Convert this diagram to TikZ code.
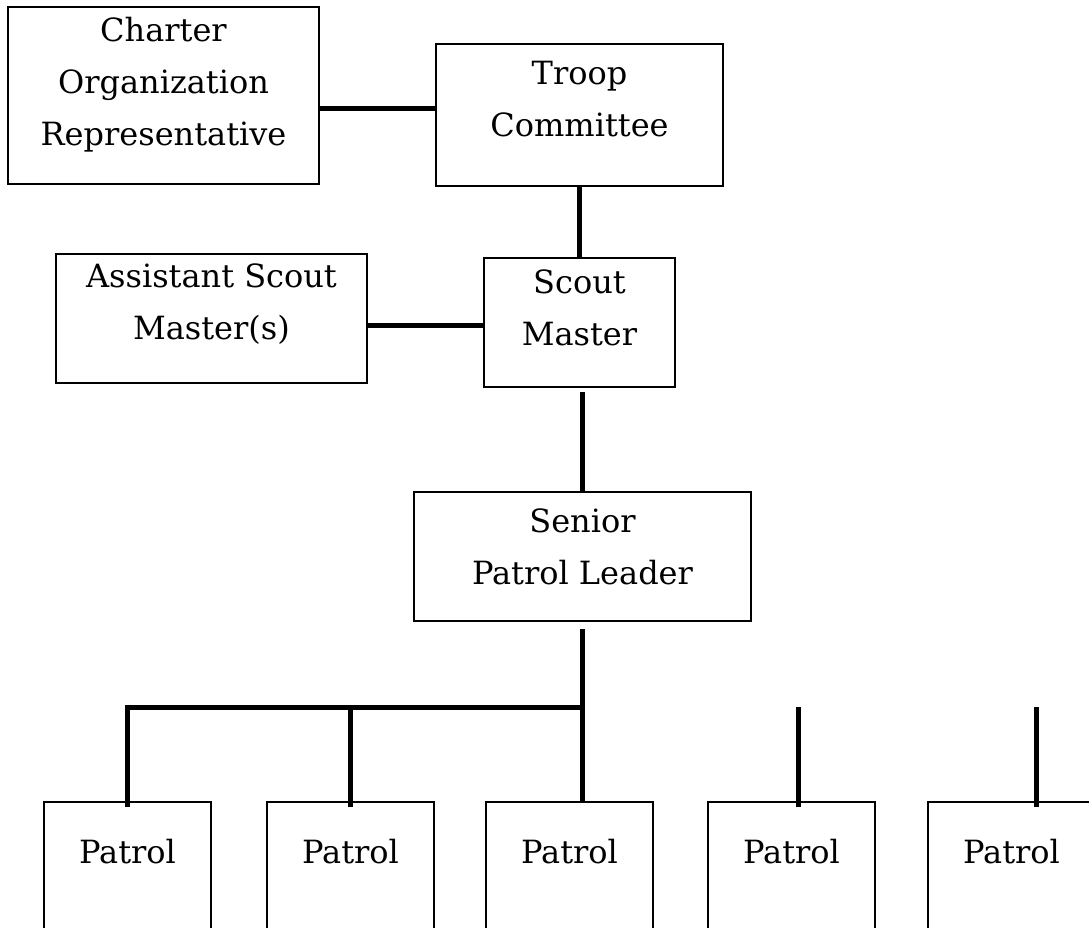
\documentclass[tikz,border=0pt]{standalone}
\usepackage{fontspec}
\setmainfont{DejaVu Serif}
\usetikzlibrary{calc}

\begin{document}
\begin{tikzpicture}[x=1pt,y=-1pt,
    unit/.style={draw,line width=1.3pt,anchor=north west,inner sep=0pt,outer sep=0pt},
    lbl/.style={anchor=base,align=center,inner sep=0pt,font=\fontsize{32}{52}\selectfont},
    link/.style={line width=5pt}]
  \clip (0,0) rectangle (1089,928);
  \fill[white] (0,0) rectangle (1089,928);
  % leaders (text sits on the last baseline)
  \node[unit,minimum width=311pt,minimum height=177pt] (cor) at (8,7) {};
  \node[unit,minimum width=287pt,minimum height=142pt] (troop) at (436,44) {};
  \node[unit,minimum width=311pt,minimum height=129pt] (asm) at (56,254) {};
  \node[unit,minimum width=191pt,minimum height=129pt] (sm) at (484,258) {};
  \node[unit,minimum width=337pt,minimum height=129pt] (spl) at (414,492) {};
  \node[lbl] (cortxt) at ($(cor.north)+(0,139)$) {Charter\\Organization\\Representative};
  \node[lbl] (trooptxt) at ($(troop.north)+(0,93)$) {Troop\\Committee};
  \node[lbl] (asmtxt) at ($(asm.north)+(0,85)$) {Assistant Scout\\Master(s)};
  \node[lbl] (smtxt) at ($(sm.north)+(0,87)$) {Scout\\Master};
  \node[lbl] (spltxt) at ($(spl.north)+(0,92)$) {Senior\\Patrol Leader};
  % patrols
  \foreach \x [count=\i] in {44,267,486,708,928}
    \node[unit,minimum width=167pt,minimum height=140pt] (p\i) at (\x,802) {};
  \foreach \i in {1,...,5}
    \node[lbl] (ptxt\i) at ($(p\i.north)+(0,61)$) {Patrol};
  % connectors
  \coordinate (c1) at (0,109);
  \coordinate (c2) at (0,325);
  \coordinate (bar) at (0,707);
  \coordinate (t4) at (798,707);
  \coordinate (t5) at (1036,707);
  \draw[link] (cor.east |- c1) -- (troop.west |- c1);
  \draw[link] (troop.south) -- (sm.north);
  \draw[link] (asm.east |- c2) -- (sm.west |- c2);
  \draw[link] ($(spl.north)+(0,-100)$) -- (spl.north);
  \draw[link] ($(spl.south)+(0,8)$) -- (spl.south |- p3.north);
  \draw[link] ($(p1.north)+(0,5)$) -- (p1.north |- bar) -- (spl.south |- bar);
  \draw[link] (p2.north |- bar) -- ($(p2.north)+(0,5)$);
  \draw[link] (t4) -- ($(t4 |- p4.north)+(0,5)$);
  \draw[link] (t5) -- ($(t5 |- p5.north)+(0,5)$);
\end{tikzpicture}
\end{document}
